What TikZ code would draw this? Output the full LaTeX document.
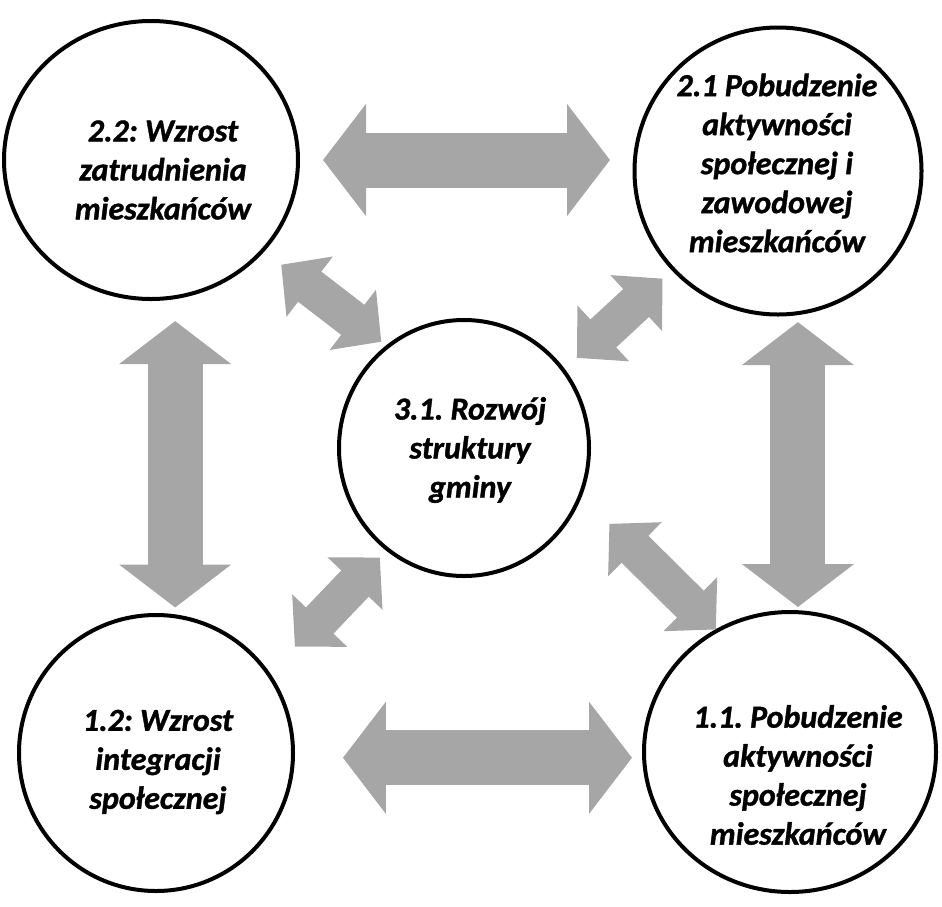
\documentclass[tikz,border=0pt]{standalone}
\usepackage{fontspec}
\setmainfont{Carlito}[BoldFont={Carlito Bold}, BoldItalicFont={Carlito Bold Italic}, BoldItalicFeatures={FakeBold=1.2}]
\frenchspacing
\usetikzlibrary{arrows.meta,shapes.geometric}
\definecolor{arrowgray}{HTML}{A6A6A6}
\tikzset{
  goal/.style={draw, ellipse, line width=4pt, inner sep=0pt, outer sep=0pt},
  goaltext/.style={align=center, font=\fontsize{32}{39}\selectfont\bfseries\itshape},
  bigarrow/.style={arrowgray, line width=55pt, {Triangle[length=43pt,width=110pt]}-{Triangle[length=43pt,width=110pt]}},
  smallarrow/.style={arrowgray, line width=38pt, {Triangle[length=36pt,width=74pt]}-{Triangle[length=36pt,width=74pt]}}
}
\begin{document}
\begin{tikzpicture}[x=1pt,y=-1pt]
\useasboundingbox (0,0) rectangle (942,906);

%goals
	\node[goal, minimum width=294pt, minimum height=278pt] (tl) at (151,160) {};
	\node[goal, minimum width=287pt, minimum height=287pt] (tr) at (778,171) {};
	\node[goal, minimum width=250pt, minimum height=256pt] (c) at (464,448) {};
	\node[goal, minimum width=274pt, minimum height=276pt] (bl) at (156,753) {};
	\node[goal, minimum width=292pt, minimum height=280pt] (br) at (790,752) {};

	%texts
	\node[goaltext] (tl-text) at (163,170) {2.2: Wzrost\\zatrudnienia\\mieszkańców};
	\node[goaltext] (tr-text) at (777,163) {2.1 Pobudzenie\\aktywności\\społecznej i\\zawodowej\\mieszkańców};
	\node[goaltext] (c-text) at (470,450) {3.1. Rozwój\\struktury\\gminy};
	\node[goaltext] (bl-text) at (158,762) {1.2: Wzrost\\integracji\\społecznej};
	\node[goaltext] (br-text) at (798,775) {1.1. Pobudzenie\\aktywności\\społecznej\\mieszkańców};

	%outer arrows
	\draw[bigarrow, shorten <=25pt, shorten >=24.5pt] (tl.east) -- (tl.east -| tr.west);
	\draw[bigarrow, shorten <=50pt, shorten >=12pt] (bl.-2) -- (bl.-2 -| br.west);
	\draw[bigarrow, shorten <=24pt, shorten >=7.5pt] (tl.-80) -- (tl.-80 |- bl.north);
	\draw[bigarrow, shorten <=9pt, shorten >=5pt] (tr.-82) -- (tr.-82 |- br.north);

	%inner arrows
	\draw[smallarrow, shorten <=23.4pt, shorten >=8pt] (tl.-39) -- (c.127);
	\draw[smallarrow, shorten <=18.4pt, shorten >=14.3pt] (c.38) -- (tr.-137);
	\draw[smallarrow, shorten <=38.2pt, shorten >=11.3pt] (bl.35) -- (c.-127);
	\draw[smallarrow, shorten <=41pt, shorten >=1.7pt] (c.-22) -- (br.121);
\end{tikzpicture}
\end{document}
